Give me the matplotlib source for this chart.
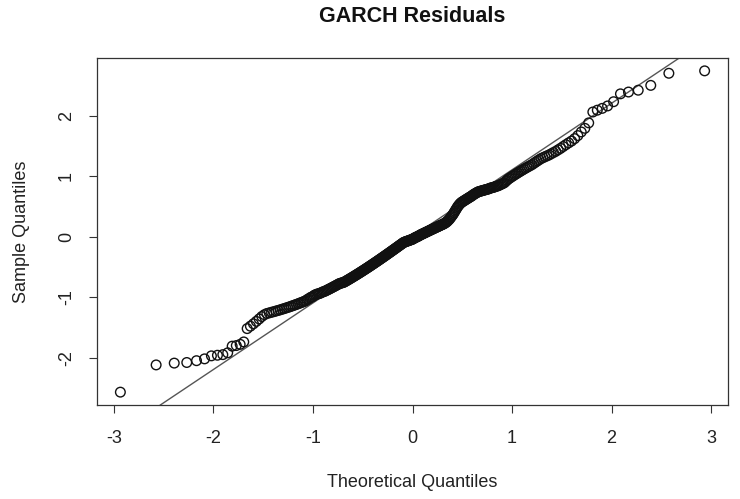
import matplotlib
matplotlib.use("Agg")
import matplotlib.pyplot as plt
import numpy as np
from statistics import NormalDist

plt.rcParams['font.family'] = ['Liberation Sans', 'DejaVu Sans']

title = "GARCH Residuals"
x_label = "Theoretical Quantiles"
y_label = "Sample Quantiles"
x_ticks = [-3, -2, -1, 0, 1, 2, 3]
y_ticks = [-2, -1, 0, 1, 2]

# standardised GARCH residuals (sorted)
residuals = [
    -2.57, -2.12, -2.09, -2.08, -2.05, -2.02, -1.97, -1.96, -1.95, -1.92,
    -1.81, -1.80, -1.78, -1.74, -1.52, -1.48, -1.44, -1.40, -1.36, -1.32,
    -1.29, -1.27, -1.26, -1.25, -1.24, -1.23, -1.22, -1.21, -1.20, -1.19,
    -1.18, -1.17, -1.16, -1.15, -1.14, -1.13, -1.12, -1.11, -1.10, -1.09,
    -1.08, -1.07, -1.06, -1.04, -1.03, -1.01, -1.00, -0.99, -0.97, -0.96,
    -0.95, -0.945, -0.94, -0.93, -0.92, -0.91, -0.905, -0.895, -0.885, -0.875,
    -0.865, -0.855, -0.845, -0.835, -0.825, -0.815, -0.805, -0.795, -0.785, -0.775,
    -0.77, -0.765, -0.76, -0.755, -0.745, -0.735, -0.725, -0.715, -0.705, -0.695,
    -0.685, -0.675, -0.665, -0.655, -0.645, -0.635, -0.625, -0.615, -0.605, -0.595,
    -0.585, -0.575, -0.565, -0.555, -0.545, -0.535, -0.525, -0.515, -0.505, -0.495,
    -0.485, -0.475, -0.465, -0.455, -0.445, -0.435, -0.425, -0.415, -0.405, -0.395,
    -0.385, -0.375, -0.365, -0.355, -0.345, -0.335, -0.325, -0.315, -0.305, -0.295,
    -0.285, -0.275, -0.265, -0.255, -0.245, -0.235, -0.225, -0.215, -0.205, -0.195,
    -0.185, -0.175, -0.165, -0.155, -0.145, -0.135, -0.125, -0.115, -0.105, -0.095,
    -0.09, -0.085, -0.08, -0.075, -0.07, -0.065, -0.06, -0.055, -0.05, -0.045,
    -0.04, -0.03, -0.02, -0.015, -0.01, 0.0, 0.005, 0.01, 0.02, 0.03,
    0.035, 0.04, 0.05, 0.055, 0.06, 0.07, 0.075, 0.08, 0.09, 0.095,
    0.10, 0.11, 0.115, 0.12, 0.13, 0.135, 0.14, 0.15, 0.155, 0.16,
    0.17, 0.175, 0.18, 0.19, 0.195, 0.20, 0.21, 0.215, 0.225, 0.235,
    0.245, 0.26, 0.275, 0.29, 0.31, 0.33, 0.35, 0.37, 0.395, 0.42,
    0.445, 0.47, 0.495, 0.515, 0.535, 0.55, 0.565, 0.575, 0.585, 0.595,
    0.605, 0.615, 0.625, 0.635, 0.645, 0.655, 0.665, 0.675, 0.69, 0.70,
    0.71, 0.72, 0.73, 0.74, 0.745, 0.75, 0.755, 0.76, 0.765, 0.77,
    0.775, 0.78, 0.785, 0.79, 0.80, 0.805, 0.81, 0.815, 0.82, 0.83,
    0.835, 0.84, 0.85, 0.86, 0.87, 0.88, 0.89, 0.91, 0.93, 0.95,
    0.965, 0.98, 0.995, 1.01, 1.025, 1.04, 1.055, 1.07, 1.085, 1.10,
    1.115, 1.13, 1.145, 1.16, 1.175, 1.19, 1.21, 1.23, 1.25, 1.27,
    1.29, 1.305, 1.32, 1.335, 1.35, 1.37, 1.39, 1.41, 1.435, 1.46,
    1.49, 1.52, 1.55, 1.58, 1.62, 1.67, 1.73, 1.79, 1.88, 2.06,
    2.09, 2.12, 2.16, 2.23, 2.36, 2.39, 2.42, 2.50, 2.70, 2.74,
]

# normal quantiles like R's qqnorm (ppoints with a = 0.5)
nd = NormalDist()
sample = np.sort(np.array(residuals))
n = len(sample)
probs = (np.arange(1, n + 1) - 0.5) / n
theo = np.array([nd.inv_cdf(p) for p in probs])

# qqline through the 1st and 3rd quartiles
qy = np.quantile(sample, [0.25, 0.75])
qx = np.array([nd.inv_cdf(0.25), nd.inv_cdf(0.75)])
slope = (qy[1] - qy[0]) / (qx[1] - qx[0])
intercept = qy[0] - slope * qx[0]

fig = plt.figure(figsize=(7.4, 4.99), dpi=100)
ax = fig.add_axes([97 / 740, 94 / 499, 631 / 740, 347 / 499])

ax.scatter(theo, sample, s=48, facecolors='none', edgecolors='#111111', linewidths=1.0, zorder=3)
ax.axline((0, intercept), slope=slope, color='#555555', lw=1.0, zorder=2)

# R style 4% padding
xr = theo.max() - theo.min()
yr = sample.max() - sample.min()
ax.set_xlim(theo.min() - 0.04 * xr, theo.max() + 0.04 * xr)
ax.set_ylim(sample.min() - 0.04 * yr, sample.max() + 0.04 * yr)

ax.set_xticks(x_ticks)
ax.set_yticks(y_ticks)
ax.set_xticklabels([str(t) for t in x_ticks])
ax.set_yticklabels([str(t) for t in y_ticks], rotation=90, va='center')
ax.tick_params(direction='out', length=6, width=0.8, color='#333333',
               labelsize=13, labelcolor='#222222')
ax.tick_params(axis='x', pad=12)
ax.tick_params(axis='y', pad=10)
for sp in ax.spines.values():
    sp.set_color('#333333')
    sp.set_linewidth(0.9)

ax.set_xlabel(x_label, fontsize=13, color='#222222', va='center')
ax.xaxis.set_label_coords(0.5, -0.222)
ax.set_ylabel(y_label, fontsize=13, color='#222222', va='center')
ax.yaxis.set_label_coords(-0.119, 0.5)

fig.text(412 / 740, 1 - 17 / 499, title, ha='center', va='center',
         fontsize=15.5, fontweight='bold', color='#111111')

fig.savefig('out.png', dpi=100)
